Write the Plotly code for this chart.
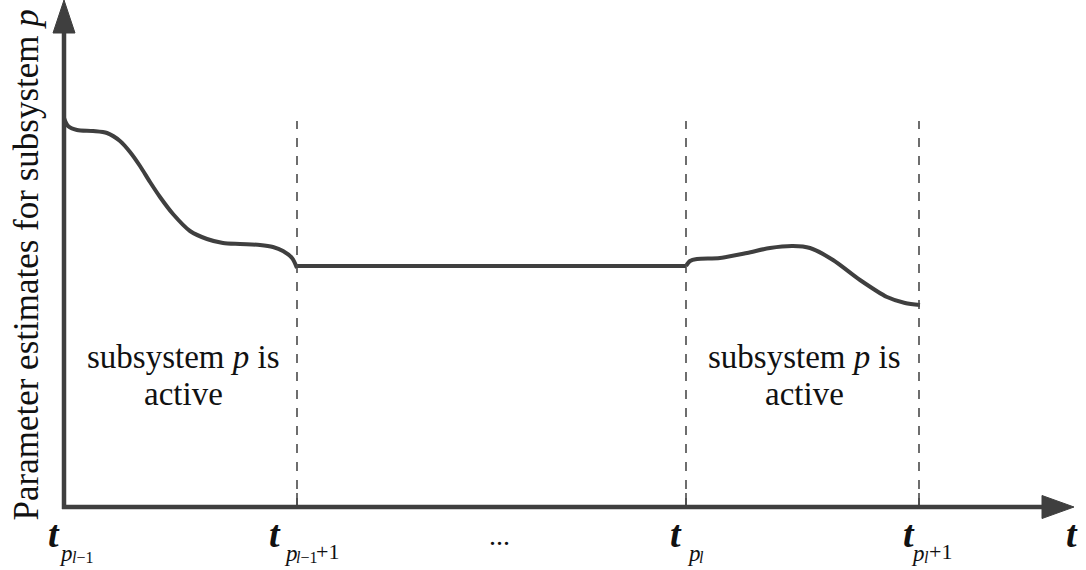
import plotly.graph_objects as go

# Switching instants along the time axis (horizontal units)
tick_pos = [0, 233, 622, 855]
axis_end = 1010  # tip of the time-axis arrow

# Parameter estimate while subsystem p is active (first interval)
seg1_t = [0, 4, 13, 29, 43, 56, 66, 76, 86, 96, 109, 126, 143, 159, 176, 196, 209, 219, 228, 233]
seg1_v = [389, 381, 377, 376, 374, 366, 355, 341, 325, 310, 293, 276, 268, 264, 263, 262, 260, 256, 249, 239]

# Estimate held constant while the subsystem is inactive
hold_t = [233, 622]
hold_v = [241, 241]

# Parameter estimate while subsystem p is active again
seg3_t = [622, 626, 633, 656, 683, 706, 729, 746, 769, 796, 823, 841, 856]
seg3_v = [241, 246, 248, 249, 254, 259, 261, 259, 247, 227, 210, 204, 202]

dash_top = 386

LINE = "#3f3f3f"
FONT = "Liberation Serif"
TXT = "#111111"

fig = go.Figure()

for tt, vv in [(seg1_t, seg1_v), (hold_t, hold_v), (seg3_t, seg3_v)]:
    fig.add_trace(go.Scatter(
        x=tt, y=vv, mode="lines",
        line=dict(color=LINE, width=4, shape="spline", smoothing=0.8),
        hoverinfo="skip", showlegend=False,
    ))

shapes = []
# dashed markers at switching instants
for xp in tick_pos[1:]:
    shapes.append(dict(type="line", x0=xp, x1=xp, y0=0, y1=dash_top, xref="x", yref="y",
                       line=dict(color="#4a4a4a", width=1.6, dash="9px,9px")))
    shapes.append(dict(type="line", x0=xp, x1=xp, y0=0, y1=14, xref="x", yref="y",
                       line=dict(color="#4a4a4a", width=1.6)))

# axes with arrow heads
shapes.append(dict(type="line", x0=0, x1=0, y0=-2, y1=480, xref="x", yref="y",
                   line=dict(color=LINE, width=4.5)))
shapes.append(dict(type="line", x0=-2, x1=axis_end - 30, y0=0, y1=0, xref="x", yref="y",
                   line=dict(color=LINE, width=4.5)))
shapes.append(dict(type="path", xref="x", yref="y",
                   path="M -11 474 L 11 474 L 0 507 Z",
                   fillcolor=LINE, line=dict(color=LINE, width=1)))
shapes.append(dict(type="path", xref="x", yref="y",
                   path=f"M {axis_end - 32} 11.5 L {axis_end - 32} -11.5 L {axis_end} 0 Z",
                   fillcolor=LINE, line=dict(color=LINE, width=1)))

ann = []
# interval captions
for xc in [(tick_pos[0] + tick_pos[1]) / 2 + 3, (tick_pos[2] + tick_pos[3]) / 2 + 2]:
    ann.append(dict(x=xc, y=150, xref="x", yref="y", showarrow=False,
                    text="subsystem <i>p</i> is", font=dict(family=FONT, size=33, color=TXT)))
    ann.append(dict(x=xc, y=113, xref="x", yref="y", showarrow=False,
                    text="active", font=dict(family=FONT, size=33, color=TXT)))

# y-axis title
ann.append(dict(x=4 / 1086, y=(570 - 265) / 570, xref="paper", yref="paper", showarrow=False,
                xanchor="left", textangle=-90, text="Parameter estimates for subsystem <i>p</i>",
                font=dict(family=FONT, size=35, color=TXT)))

T_FONT = dict(family=FONT, size=38, color=TXT, style="italic", weight="bold")

# time tick labels: t with nested subscripts
sub_l = ["<i>l</i>\u22121", "<i>l</i>\u22121", "<i>l</i>", "<i>l</i>"]
plus1 = [False, True, False, True]
t_dx = [-10, -22, -10, -10]      # centre of the "t" relative to the tick
p_dx = [-7, -15, -1, -10]        # left edge of the "p" subscript
s_dx = [6, -3, 11, 3]            # left edge of the second-level subscript
o_dx = [0, 17, 0, 8]             # left edge of "+1"
for xp, sl, pl, a, b, c, d in zip(tick_pos, sub_l, plus1, t_dx, p_dx, s_dx, o_dx):
    ann.append(dict(x=xp, y=-27, xref="x", yref="y", showarrow=False, xshift=a,
                    text="t", font=T_FONT))
    ann.append(dict(x=xp, y=-46, xref="x", yref="y", showarrow=False, xshift=b,
                    xanchor="left", text="<i>p</i>", font=dict(family=FONT, size=23, color=TXT)))
    ann.append(dict(x=xp, y=-50, xref="x", yref="y", showarrow=False, xshift=c,
                    xanchor="left", text=sl, font=dict(family=FONT, size=16, color=TXT)))
    if pl:
        ann.append(dict(x=xp, y=-44, xref="x", yref="y", showarrow=False,
                        xshift=d, xanchor="left", text="+1",
                        font=dict(family=FONT, size=22, color=TXT)))

ann.append(dict(x=(tick_pos[1] + tick_pos[2]) / 2 + 8, y=-28, xref="x", yref="y", showarrow=False,
                text="...", font=dict(family=FONT, size=28, color=TXT)))
ann.append(dict(x=axis_end, y=-27, xref="x", yref="y", showarrow=False, xshift=-2,
                text="t", font=T_FONT))

fig.update_layout(
    width=1086, height=570,
    margin=dict(l=0, r=0, t=0, b=0),
    paper_bgcolor="white", plot_bgcolor="white",
    xaxis=dict(range=[-64, 1022], visible=False, fixedrange=True),
    yaxis=dict(range=[-63, 507], visible=False, fixedrange=True),
    shapes=shapes, annotations=ann, showlegend=False,
)

fig.write_html("out.html")
